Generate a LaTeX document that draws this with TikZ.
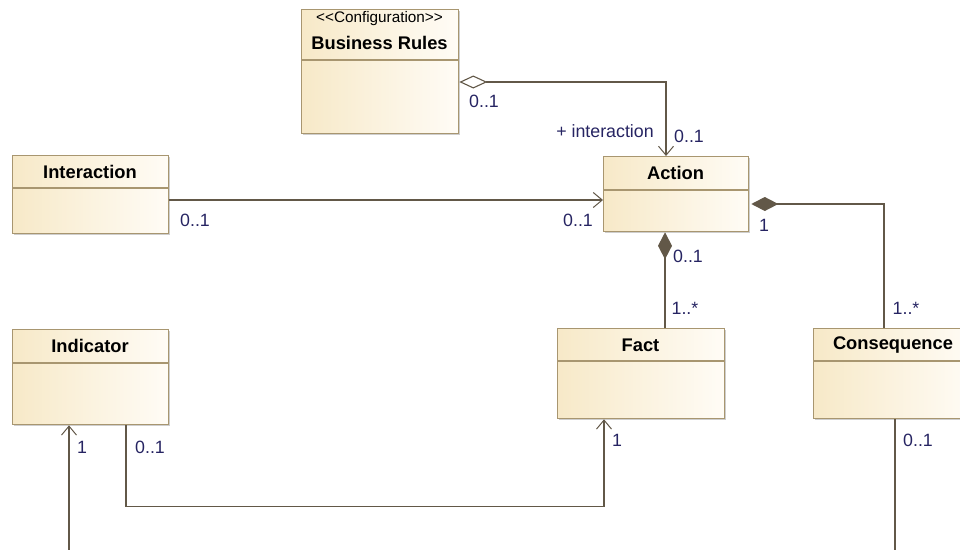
\documentclass[tikz,border=0pt]{standalone}
\usepackage{fontspec}
\setmainfont{Liberation Sans}
\usetikzlibrary{arrows.meta,shadows,calc}
\definecolor{bordc}{RGB}{168,150,112}
\definecolor{fillL}{RGB}{247,233,200}
\definecolor{fillR}{RGB}{255,252,246}
\definecolor{linec}{RGB}{98,88,72}
\definecolor{labc}{RGB}{38,36,98}
\begin{document}
\begin{tikzpicture}[x=1pt,y=-1pt,
  classbox/.style={draw=bordc, line width=1.3pt, left color=fillL, right color=fillR,
    drop shadow={shadow xshift=1.8pt,shadow yshift=-1.8pt,opacity=0.35,fill=black!55},
    anchor=north west, inner sep=0pt},
  divider/.style={draw=bordc, line width=1.1pt},
  ctitle/.style={font=\bfseries\fontsize{18.3}{20}\selectfont, text=black, inner sep=0pt},
  stereo/.style={font=\fontsize{15.3}{16}\selectfont, text=black, inner sep=0pt},
  mult/.style={font=\fontsize{17.8}{20}\selectfont, text=labc, inner sep=0pt},
  conn/.style={draw=linec, line width=1.3pt},
  opena/.style={conn, -{Straight Barb[length=9pt,width=15pt,line width=1pt]}},
  aggrnav/.style={conn, {Diamond[open,length=28pt,width=13pt,fill=white,line width=1.1pt]}-{Straight Barb[length=9pt,width=15pt,line width=1pt]}},
  comp/.style={conn, {Diamond[length=27pt,width=14pt]}-}
]
\useasboundingbox (0,0) rectangle (960,549);

% ---------- classes ----------
\node[classbox, minimum width=157pt, minimum height=124pt] (br) at (301,9) {};
\draw[divider] ([yshift=-51pt]br.north west) -- ([yshift=-51pt]br.north east);
\node[stereo] (brst) at (379.5,19) {<\kern0pt<Configuration>\kern0pt>};
\node[ctitle] (brname) at (379.5,43) {Business Rules};

\node[classbox, minimum width=156pt, minimum height=78pt] (inter) at (12,155) {};
\draw[divider] ([yshift=-33pt]inter.north west) -- ([yshift=-33pt]inter.north east);
\node[ctitle] (intername) at (90,172) {Interaction};

\node[classbox, minimum width=145pt, minimum height=75pt] (action) at (603,156) {};
\draw[divider] ([yshift=-34pt]action.north west) -- ([yshift=-34pt]action.north east);
\node[ctitle] (actionname) at (675.5,173) {Action};

\node[classbox, minimum width=156pt, minimum height=95pt] (ind) at (12,329) {};
\draw[divider] ([yshift=-34pt]ind.north west) -- ([yshift=-34pt]ind.north east);
\node[ctitle] (indname) at (90,346) {Indicator};

\node[classbox, minimum width=167pt, minimum height=90pt] (fact) at (557,328) {};
\draw[divider] ([yshift=-33pt]fact.north west) -- ([yshift=-33pt]fact.north east);
\node[ctitle] (factname) at (640.5,345) {Fact};

\node[classbox, minimum width=160pt, minimum height=90pt] (cons) at (813,328) {};
\draw[divider] ([yshift=-33pt]cons.north west) -- ([yshift=-33pt]cons.north east);
\node[ctitle] (consname) at (893,345) {Consequence};

% ---------- connectors ----------
\coordinate (brout) at ([yshift=-73pt]br.north east);
\coordinate (actin) at ([xshift=63pt]action.north west);
\draw[aggrnav] (brout) -| (actin);

\coordinate (interout) at ([yshift=-45pt]inter.north east);
\draw[opena] (interout) -- (interout -| action.west);

\coordinate (actbot) at ([xshift=62pt]action.south west);
\draw[comp] (actbot) -- (actbot |- fact.north);

\coordinate (actright) at ([yshift=-48pt,xshift=2pt]action.north east);
\coordinate (constop) at ([xshift=71pt]cons.north west);
\draw[comp] (actright) -| (constop);

\coordinate (indout) at ([xshift=114pt]ind.south west);
\coordinate (factin) at ([xshift=47pt]fact.south west);
\draw[opena] (indout) -- ++(0,81) -| (factin);

\coordinate (indsrc) at (69,552);
\draw[opena] (indsrc) -- (indsrc |- ind.south);

\coordinate (consout) at ([xshift=82pt]cons.south west);
\coordinate (consend) at (895,552);
\draw[conn] (consout) -- (consend);

% ---------- labels ----------
\node[mult] (l1) at (484,101) {0..1};
\node[mult] (l2) at (605,131) {+ interaction};
\node[mult] (l3) at (689,136) {0..1};
\node[mult] (l4) at (195,220) {0..1};
\node[mult] (l5) at (578,220) {0..1};
\node[mult] (l6) at (688,256) {0..1};
\node[mult] (l7) at (685,308) {1..*};
\node[mult] (l8) at (764,225) {1};
\node[mult] (l9) at (906,308) {1..*};
\node[mult] (l10) at (150,447) {0..1};
\node[mult] (l11) at (82,447) {1};
\node[mult] (l12) at (617,440) {1};
\node[mult] (l13) at (918,440) {0..1};
\end{tikzpicture}
\end{document}
